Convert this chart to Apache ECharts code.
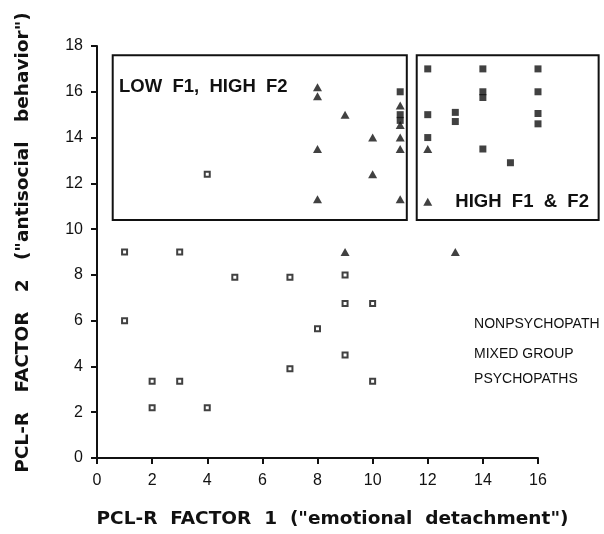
<!DOCTYPE html>
<html>
<head>
<meta charset="utf-8">
<script src="https://cdn.jsdelivr.net/npm/echarts@6/dist/echarts.min.js"></script>
<style>
html,body{margin:0;padding:0;background:#fff;}
#c{width:604px;height:534px;}
</style>
</head>
<body>
<div id="c"></div>
<script>
// ---- data (PCL-R Factor 1, Factor 2) ----
const nonpsychopaths = [
  [1, 9], [3, 9], [4, 12.4], [5, 7.9], [7, 7.9], [9, 8], [9, 6.75], [10, 6.75],
  [1, 6], [8, 5.65], [9, 4.5], [7, 3.9], [2, 3.35], [3, 3.35], [10, 3.35],
  [2, 2.2], [4, 2.2]
];
const mixedGroup = [
  [8, 16.2], [8, 15.8], [9, 15], [10, 14], [8, 13.5], [10, 12.4], [8, 11.3],
  [11, 11.3], [11, 13.5], [11, 14], [11, 15.4], [11, 14.55], [9, 9],
  [12, 13.5], [12, 11.2], [13, 9]
];
const psychopaths = [
  [11, 16], [11, 15], [11, 14.75], [12, 17], [14, 17], [16, 17], [14, 16],
  [14, 15.75], [16, 16], [12, 15], [13, 15.1], [13, 14.7], [16, 15.05],
  [16, 14.6], [12, 14], [14, 13.5], [15, 12.9]
];
const seriesNames = ['NONPSYCHOPATH', 'MIXED GROUP', 'PSYCHOPATHS'];
const xTitle = 'PCL-R  FACTOR  1  ("emotional  detachment")';
const yTitle = 'PCL-R   FACTOR   2   ("antisocial   behavior")';
const xRange = { min: 0, max: 16, interval: 2 };
const yRange = { min: 0, max: 18, interval: 2 };

// region boxes (data coordinates: [F1, F2] corners) and their labels
const regionBoxes = [
  { from: [0.57, 10.4], to: [11.24, 17.6] },
  { from: [11.6, 10.4], to: [18.2, 17.6] }
];
const regionLabels = [
  { text: 'LOW  F1,  HIGH  F2', at: [0.8, 16.2] },
  { text: 'HIGH  F1  &  F2', at: [13.0, 11.2] }
];
const legendAnchors = [[13.68, 5.85], [13.68, 4.55], [13.68, 3.45]];

const ink = '#111';
const titleFont = '"DejaVu Sans", Verdana, sans-serif';
const bodyFont = '"Liberation Sans", Arial, Helvetica, sans-serif';
const chart = echarts.init(document.getElementById('c'), null, { renderer: 'canvas' });

const axisCommon = {
  axisLine: { show: true, lineStyle: { color: ink, width: 2 } },
  axisTick: { show: true, inside: false, length: 6, lineStyle: { color: ink, width: 2 } },
  splitLine: { show: false },
  nameLocation: 'middle'
};

chart.setOption({
  animation: false,
  backgroundColor: '#fff',
  grid: { left: 97, right: 66, top: 46, bottom: 76 },
  xAxis: Object.assign({}, axisCommon, {
    type: 'value', min: xRange.min, max: xRange.max, interval: xRange.interval,
    axisLabel: { color: ink, fontSize: 16, fontFamily: bodyFont, margin: 15 },
    name: xTitle, nameGap: 52,
    nameTextStyle: { color: ink, fontSize: 18.5, fontWeight: 'bold', fontFamily: titleFont, padding: [0, 0, 0, 30] }
  }),
  yAxis: Object.assign({}, axisCommon, {
    type: 'value', min: yRange.min, max: yRange.max, interval: yRange.interval,
    axisLabel: { color: ink, fontSize: 16, fontFamily: bodyFont, margin: 14 },
    name: yTitle, nameGap: 64, nameRotate: 90,
    nameTextStyle: { color: ink, fontSize: 18.5, fontWeight: 'bold', fontFamily: titleFont, padding: [0, 0, 0, 19] }
  }),
  series: [
    {
      name: seriesNames[0], type: 'scatter', data: nonpsychopaths, clip: false,
      symbol: 'rect', symbolSize: 5,
      itemStyle: { color: '#fff', borderColor: ink, borderWidth: 2 }
    },
    {
      name: seriesNames[1], type: 'scatter', data: mixedGroup, clip: false,
      symbol: 'triangle', symbolSize: [9, 8],
      itemStyle: { color: ink }
    },
    {
      name: seriesNames[2], type: 'scatter', data: psychopaths, clip: false,
      symbol: 'rect', symbolSize: 7,
      itemStyle: { color: ink }
    }
  ]
});

function px(p) { return chart.convertToPixel({ gridIndex: 0 }, p); }

const graphics = [];
regionBoxes.forEach(function (b) {
  const a = px(b.from), c = px(b.to);
  graphics.push({
    type: 'rect', z: 10,
    shape: { x: Math.min(a[0], c[0]), y: Math.min(a[1], c[1]), width: Math.abs(c[0] - a[0]), height: Math.abs(c[1] - a[1]) },
    style: { fill: null, stroke: ink, lineWidth: 2 }
  });
});
regionLabels.forEach(function (l) {
  const p = px(l.at);
  graphics.push({
    type: 'text', z: 11, x: p[0], y: p[1],
    style: { text: l.text, fill: ink, font: 'bold 18.5px ' + bodyFont, textAlign: 'left', textVerticalAlign: 'middle' }
  });
});
seriesNames.forEach(function (n, i) {
  const p = px(legendAnchors[i]);
  graphics.push({
    type: 'text', z: 11, x: p[0], y: p[1],
    style: { text: n, fill: ink, font: '14px ' + bodyFont, textAlign: 'left', textVerticalAlign: 'middle' }
  });
});
chart.setOption({ graphic: graphics });
</script>
</body>
</html>
